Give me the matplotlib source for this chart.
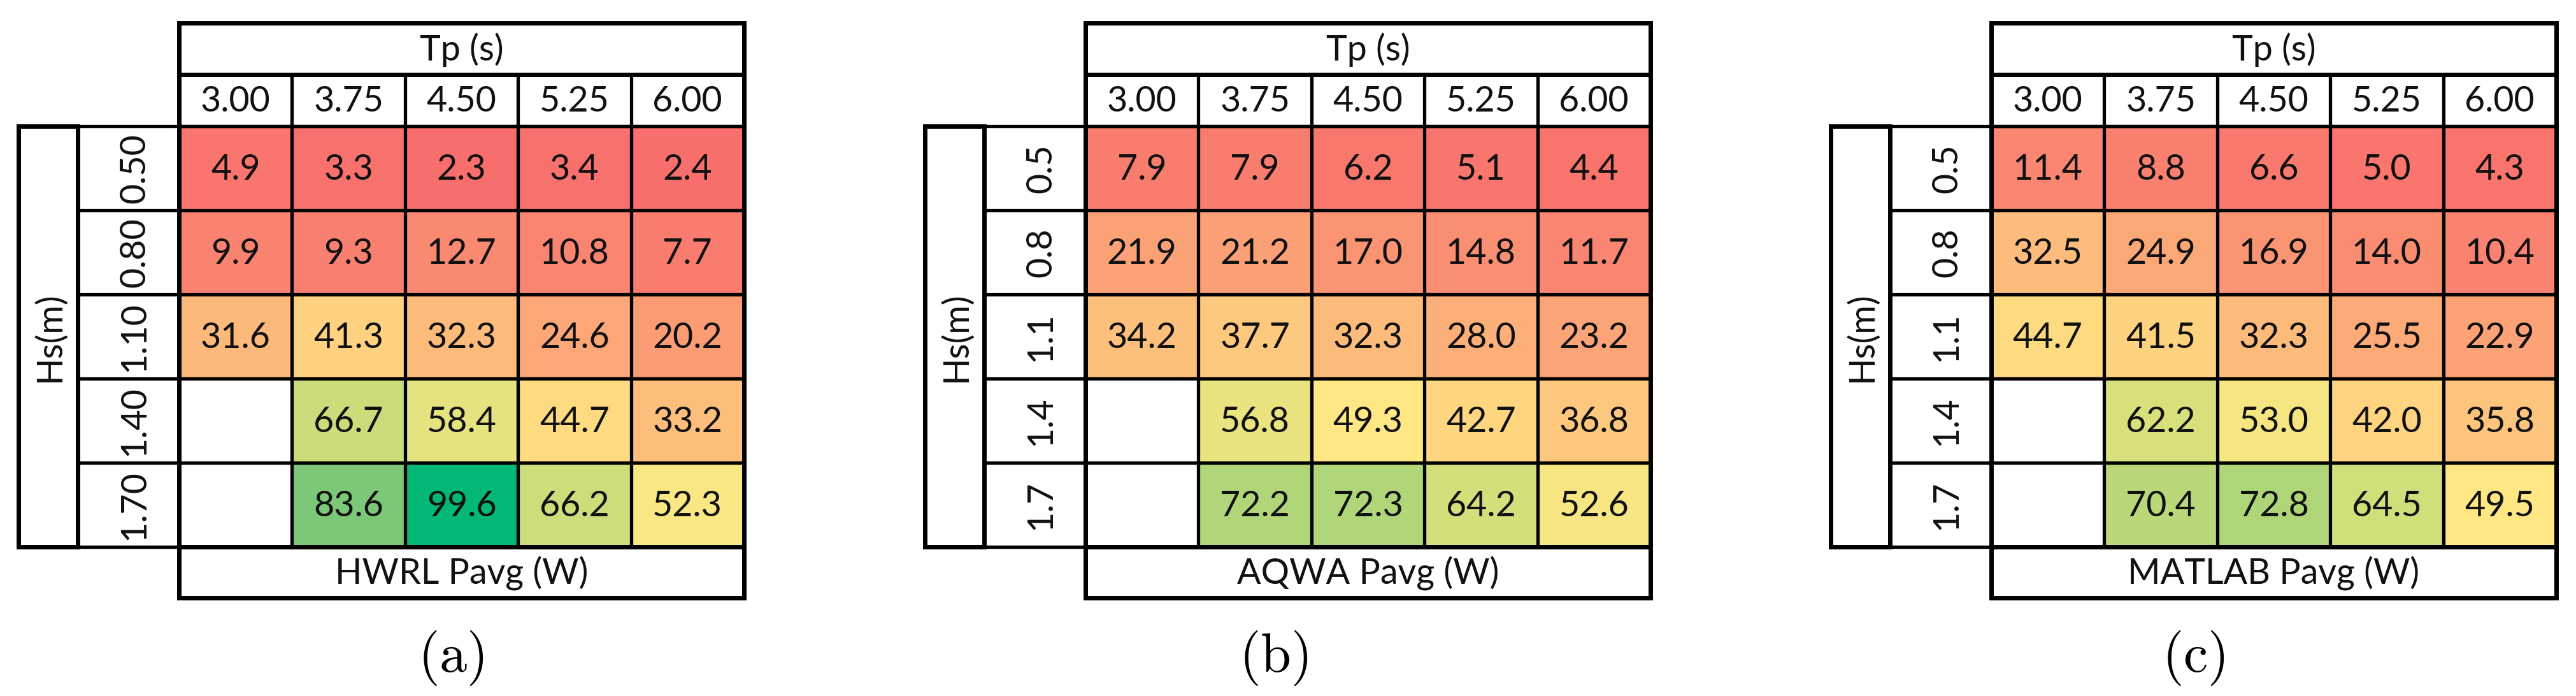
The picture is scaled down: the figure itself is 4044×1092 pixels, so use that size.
import numpy as np
import matplotlib
matplotlib.use("Agg")
import matplotlib.pyplot as plt
from matplotlib.colors import LinearSegmentedColormap, Normalize
from matplotlib.patches import Rectangle

# table headers
tp_labels = ["3.00", "3.75", "4.50", "5.25", "6.00"]
hs_labels_a = ["0.50", "0.80", "1.10", "1.40", "1.70"]
hs_labels_bc = ["0.5", "0.8", "1.1", "1.4", "1.7"]

# average power in W (rows = Hs, cols = Tp), nan = empty cell
hwrl = [[4.9, 3.3, 2.3, 3.4, 2.4],
        [9.9, 9.3, 12.7, 10.8, 7.7],
        [31.6, 41.3, 32.3, 24.6, 20.2],
        [np.nan, 66.7, 58.4, 44.7, 33.2],
        [np.nan, 83.6, 99.6, 66.2, 52.3]]
aqwa = [[7.9, 7.9, 6.2, 5.1, 4.4],
        [21.9, 21.2, 17.0, 14.8, 11.7],
        [34.2, 37.7, 32.3, 28.0, 23.2],
        [np.nan, 56.8, 49.3, 42.7, 36.8],
        [np.nan, 72.2, 72.3, 64.2, 52.6]]
matlab = [[11.4, 8.8, 6.6, 5.0, 4.3],
          [32.5, 24.9, 16.9, 14.0, 10.4],
          [44.7, 41.5, 32.3, 25.5, 22.9],
          [np.nan, 62.2, 53.0, 42.0, 35.8],
          [np.nan, 70.4, 72.8, 64.5, 49.5]]

footers = ["HWRL Pavg (W)", "AQWA Pavg (W)", "MATLAB Pavg (W)"]
tags = ["(a)", "(b)", "(c)"]

# excel-like red / yellow / green colour scale
cmap = LinearSegmentedColormap.from_list(
    "ryg", [(0.0, "#F8696B"), (0.5, "#FFE884"), (0.66, "#CDDE7A"),
            (0.84, "#7CC878"), (1.0, "#00B876")])
norm = Normalize(vmin=0, vmax=100)

plt.rcParams['font.family'] = ['Lato', 'DejaVu Sans']
plt.rcParams['mathtext.fontset'] = 'cm'
txt_col = "#111111"
fs = 40
lw_in = 3.8
lw_out = 5.0

fig = plt.figure(figsize=(40.44, 10.92), dpi=100)
ax = fig.add_axes([0, 0, 1, 1])
ax.set_xlim(0, 4044)
ax.set_ylim(1092, 0)
ax.axis('off')

# layout in pixels
panel_x = [29, 1452, 2874]
tag_x = [708, 1999, 3443]
hs_w, lab_w, cw = 93, 159, 177.4
top, hdr_h, rh, foot_h = 36, 81, 132, 80

datasets = [hwrl, aqwa, matlab]
row_sets = [hs_labels_a, hs_labels_bc, hs_labels_bc]

for p in range(3):
    vals = np.ma.masked_invalid(np.array(datasets[p]))
    x_hs = panel_x[p]
    x_lab = x_hs + hs_w
    x0 = x_lab + lab_w
    x1 = x0 + cw * len(tp_labels)
    y_tick = top + hdr_h
    y0 = y_tick + hdr_h
    y1 = y0 + rh * len(row_sets[p])
    y_foot = y1 + foot_h

    xe = x0 + cw * np.arange(len(tp_labels) + 1)
    ye = y0 + rh * np.arange(len(row_sets[p]) + 1)
    ax.pcolormesh(xe, ye, vals, cmap=cmap, norm=norm, zorder=1)

    # grid of data cells
    ax.vlines(xe, y_tick, y1, color='black', lw=lw_in, zorder=3)
    ax.hlines(ye, x_lab, x1, color='black', lw=lw_in, zorder=3)

    for i in range(vals.shape[0]):
        for j in range(vals.shape[1]):
            if not np.ma.is_masked(vals[i, j]):
                ax.text((xe[j] + xe[j + 1]) / 2, (ye[i] + ye[i + 1]) / 2 + 2,
                        f"{vals[i, j]:.1f}", ha='center', va='center',
                        fontsize=fs, color=txt_col, zorder=4)

    # header: Tp (s) and tick row
    ax.add_patch(Rectangle((x0, top), x1 - x0, hdr_h, fill=False, lw=lw_out, ec='black', zorder=3))
    ax.add_patch(Rectangle((x0, y_tick), x1 - x0, hdr_h, fill=False, lw=lw_in, ec='black', zorder=3))
    ax.text((x0 + x1) / 2, top + hdr_h / 2 + 2, "Tp (s)", ha='center', va='center',
            fontsize=fs, color=txt_col)
    for j, lab in enumerate(tp_labels):
        ax.text((xe[j] + xe[j + 1]) / 2, y_tick + hdr_h / 2 + 2, lab, ha='center',
                va='center', fontsize=fs, color=txt_col)

    # row labels
    ax.add_patch(Rectangle((x_hs, y0), hs_w, y1 - y0, fill=False, lw=lw_out, ec='black', zorder=3))
    ax.vlines([x_lab], y0, y1, color='black', lw=lw_in, zorder=3)
    ax.text(x_hs + hs_w / 2 + 2, (y0 + y1) / 2, "Hs(m)", rotation=90, ha='center',
            va='center', fontsize=fs, color=txt_col)
    for i, lab in enumerate(row_sets[p]):
        ax.text(x_lab + lab_w / 2 + 10, (ye[i] + ye[i + 1]) / 2, lab, rotation=90,
                ha='center', va='center', fontsize=fs, color=txt_col)

    # footer
    ax.add_patch(Rectangle((x0, y1), x1 - x0, foot_h, fill=False, lw=lw_out, ec='black', zorder=3))
    ax.text((x0 + x1) / 2, y1 + foot_h / 2 + 2, footers[p], ha='center', va='center',
            fontsize=fs, color=txt_col)
    ax.vlines([x0, x1], top, y_foot, color='black', lw=lw_out, zorder=3)

    ax.text(tag_x[p], 1032, r"$\mathrm{" + tags[p] + "}$", ha='center', va='center',
            fontsize=62, color='black')

fig.savefig("out.png", dpi=100)
